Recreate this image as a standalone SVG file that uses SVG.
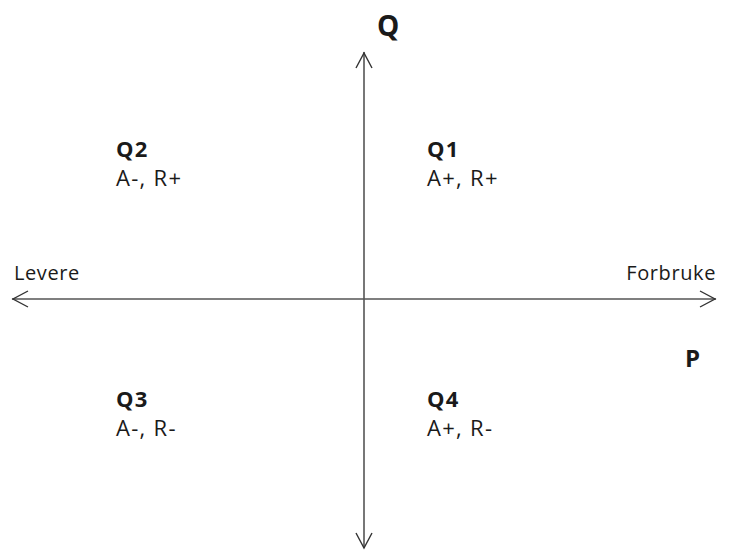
<svg xmlns="http://www.w3.org/2000/svg" width="751" height="552" viewBox="0 0 751 552">
<style>
.t{font-family:"Open Sans","Liberation Sans",sans-serif;fill:#1a1a1a}
.q{font-size:22px;letter-spacing:1.3px}
.s{font-size:20px;letter-spacing:0.6px}
.b{font-weight:bold}
.ax{stroke:#555;stroke-width:1.6;fill:none}
.ah{stroke:#333;stroke-width:1.4;fill:none}
</style>
<rect width="751" height="552" fill="#fff"/>
<g id="connectors">
<line class="ax" x1="364" y1="52" x2="364" y2="548"/>
<line class="ax" x1="12" y1="299" x2="716" y2="299"/>
<polyline class="ah" points="356,68 364,53 372,68"/>
<polyline class="ah" points="356,533 364,548 372,533"/>
<polyline class="ah" points="28,291 13,299 28,307"/>
<polyline class="ah" points="700,291 715,299 700,307"/>
</g>
<g id="axisQ"><text class="t b" x="377" y="36" style="font-size:28px">Q</text></g>
<g id="axisP"><text class="t b" x="685" y="367" style="font-size:24px">P</text></g>
<g id="levere"><text class="t s" x="14" y="280">Levere</text></g>
<g id="forbruke"><text class="t s" x="716" y="280" text-anchor="end">Forbruke</text></g>
<g id="q1"><text class="t b q" x="427" y="157">Q1</text><text class="t q" x="427" y="186">A+, R+</text></g>
<g id="q2"><text class="t b q" x="116" y="157">Q2</text><text class="t q" x="116" y="186">A-, R+</text></g>
<g id="q3"><text class="t b q" x="116" y="407">Q3</text><text class="t q" x="116" y="436">A-, R-</text></g>
<g id="q4"><text class="t b q" x="427" y="407">Q4</text><text class="t q" x="427" y="436">A+, R-</text></g>
</svg>
